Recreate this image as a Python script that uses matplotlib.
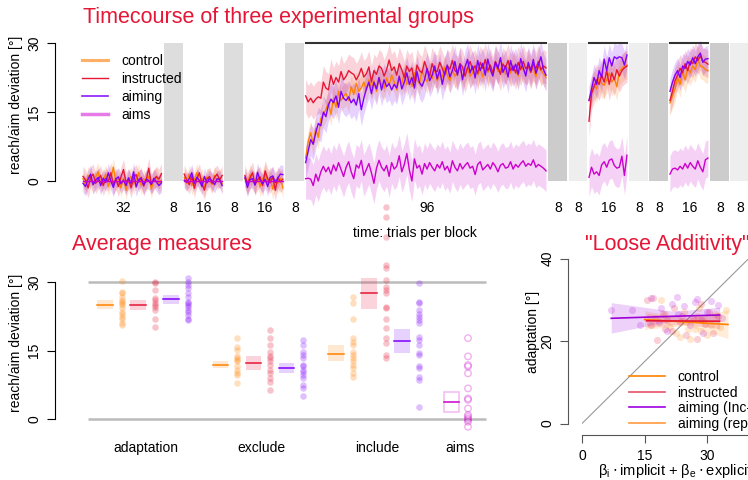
import numpy as np
import matplotlib
matplotlib.use('Agg')
import matplotlib.pyplot as plt
from matplotlib.lines import Line2D
from matplotlib.patches import Rectangle

plt.rcParams['font.family'] = ['Liberation Sans', 'DejaVu Sans']

# ---------------- data: timecourse ----------------
block_sizes = [32, 8, 16, 8, 16, 8, 96, 8, 8, 16, 8, 8, 16, 8, 8]

# baseline blocks
ctl_b1 = [0.5, -1.0, 1.2, 0.3, -0.8, 0.9, 2.0, -0.5, 0.2, 1.5, -1.2, 0.4, 3.0, -0.3, 0.8, -1.5,
          0.6, -2.0, 0.1, 1.0, -0.7, 0.3, 1.8, -1.0, 0.5, -0.2, 1.1, -1.8, 0.4, 0.9, -0.6, 0.2]
ins_b1 = [1.0, 0.2, -1.5, 0.8, 1.5, -0.5, 0.3, 1.2, -1.0, 0.6, 0.0, 1.8, -0.8, 0.4, -1.2, 0.9,
          2.5, -0.3, 0.5, -1.5, 0.7, 1.4, -0.2, 0.8, -1.1, 0.3, 2.8, -0.6, 0.2, 1.0, 0.4, 1.6]
aim_b1 = [-0.5, -1.2, 0.4, 1.5, -0.8, 0.2, 0.8, -1.0, 0.6, -0.3, 1.8, 0.0, -1.4, 0.5, 0.9, -0.6,
          0.2, -1.0, 0.7, -0.5, 2.0, -1.3, 0.3, 0.6, -0.9, 0.4, 0.1, -0.8, 0.6, -0.2, -1.0, -0.4]
ctl_b3 = [0.8, -0.5, 1.5, -1.0, 0.3, 1.8, -0.4, 0.6, -1.5, 0.9, 0.2, -0.8, 1.2, 0.0, 0.7, -0.6]
ins_b3 = [1.5, 0.2, -0.8, 1.0, -1.6, 0.5, 1.8, -0.6, -2.0, 0.4, 1.0, -0.5, 0.8, 1.5, 0.3, 1.2]
aim_b3 = [0.2, -0.3, 0.5, 1.8, -0.5, 0.8, 0.1, -1.2, 1.0, -0.4, 0.6, 0.0, -0.8, 0.5, 0.3, -1.0]
ctl_b5 = [0.5, -1.0, 1.4, 0.2, -0.6, 1.0, -1.2, 0.4, 1.6, -0.3, 0.8, -1.8, 0.3, -0.5, 0.6, -1.5]
ins_b5 = [1.2, -0.5, 0.6, 1.8, -0.8, 0.3, 0.9, -1.0, 2.2, 0.5, -0.4, 1.0, -2.0, 0.8, -0.2, 0.4]
aim_b5 = [0.8, -1.4, 0.3, 0.5, -0.9, 1.9, 0.2, -0.6, 0.4, -1.2, 0.8, 1.1, -0.3, 0.6, 1.5, 1.4]

# rotated training block (96 trials)
ins_rot = [18.5, 17.2, 18.0, 17.0, 17.8, 18.3, 18.0, 21.5, 20.2, 19.8, 23.0, 21.0, 22.5, 21.5, 23.8, 22.0,
           22.8, 24.0, 23.5, 23.2, 22.0, 23.0, 24.5, 22.6, 23.3, 24.8, 21.5, 24.0, 23.2, 25.0, 24.5, 22.8,
           24.2, 26.3, 24.0, 24.8, 23.0, 25.5, 24.2, 22.5, 25.0, 23.8, 24.6, 21.5, 25.2, 24.0, 23.5, 26.0,
           24.3, 22.8, 25.5, 24.0, 23.8, 25.8, 24.5, 23.0, 25.0, 24.3, 26.2, 24.0, 23.5, 25.5, 24.8, 22.8,
           24.6, 26.0, 24.2, 25.0, 23.4, 25.8, 24.5, 26.4, 24.0, 25.2, 23.5, 26.0, 24.8, 23.2, 25.4, 24.6,
           26.2, 24.0, 25.0, 23.5, 25.8, 24.2, 26.0, 24.4, 25.0, 23.6, 25.4, 24.5, 26.0, 24.2, 25.0, 24.6]
ctl_rot = [5.0, 8.5, 10.5, 8.0, 11.5, 9.5, 13.5, 14.5, 15.5, 17.0, 14.5, 18.0, 16.0, 19.5, 17.5, 18.5,
           19.0, 17.5, 20.5, 18.8, 21.2, 19.5, 20.2, 21.5, 19.8, 22.0, 20.4, 21.8, 19.5, 22.5, 21.0, 20.2,
           22.4, 20.8, 23.0, 21.5, 19.8, 22.6, 21.2, 23.4, 21.0, 22.8, 20.5, 23.5, 22.0, 21.2, 24.0, 22.4,
           21.6, 23.8, 22.2, 24.4, 21.8, 23.2, 22.6, 24.8, 23.0, 21.8, 24.2, 22.8, 23.6, 25.0, 22.4, 23.8,
           24.6, 22.8, 23.5, 25.2, 23.0, 24.4, 22.6, 25.0, 23.6, 24.8, 22.9, 25.4, 23.8, 24.2, 25.6, 23.2,
           24.8, 23.4, 25.2, 24.0, 22.8, 25.0, 24.2, 23.6, 25.2, 23.8, 24.6, 22.6, 25.0, 24.0, 23.4, 22.5]
aim_rot = [4.0, 6.5, 9.0, 8.0, 10.5, 12.5, 12.0, 15.0, 14.0, 16.5, 17.8, 17.0, 18.5, 16.0, 19.5, 18.0,
           17.5, 18.3, 17.0, 17.8, 16.5, 19.0, 15.5, 18.0, 20.0, 21.5, 19.0, 21.5, 20.0, 22.5, 19.8, 22.0,
           20.5, 21.2, 19.8, 21.0, 20.2, 22.8, 20.0, 21.5, 23.5, 21.0, 22.5, 20.2, 23.8, 21.4, 20.6, 22.0,
           24.5, 21.8, 23.0, 25.0, 22.2, 24.2, 21.0, 23.6, 25.2, 22.6, 24.0, 26.0, 23.0, 25.4, 22.0, 24.8,
           26.4, 23.5, 25.0, 22.4, 26.2, 24.0, 25.6, 23.0, 26.5, 24.2, 22.8, 25.8, 24.4, 26.8, 23.6, 25.0,
           22.6, 26.2, 24.0, 25.4, 23.2, 26.6, 24.6, 22.8, 25.8, 24.0, 26.4, 23.4, 25.2, 27.0, 24.2, 23.0]
aims_rot = [0.5, 0.6, 0.4, -1.0, 1.5, 0.0, 2.0, 3.2, 2.0, 3.0, 1.5, 3.5, 2.2, 4.0, 2.5, 1.0,
            3.0, 4.2, 2.0, 0.5, 3.5, 2.8, 4.5, 1.2, 2.5, 3.8, 1.8, -0.5, 2.8, 4.5, 3.0, 2.2,
            3.4, 1.0, 4.0, 2.6, 3.2, 5.5, 2.0, 3.6, 6.0, 2.4, 0.0, 4.8, 2.8, 3.4, 1.5, 3.8,
            2.6, 4.0, 3.0, 2.2, 3.6, 2.8, 4.2, 2.4, 3.2, 1.8, 4.4, 3.0, 2.2, 3.8, 2.6, 3.4,
            4.0, 2.8, 3.2, 1.4, 3.6, 4.2, 2.4, 3.0, 3.6, 2.6, 4.0, 3.2, 2.0, 3.4, 3.8, 2.8,
            3.0, 4.2, 2.6, 3.6, 3.0, 3.8, 4.4, 3.2, 3.8, 3.4, 4.6, 3.0, 3.6, 3.2, 2.8, 2.2]

# later rotated blocks (16 trials each)
ins_r2 = [13.0, 19.0, 20.5, 22.0, 21.0, 23.0, 21.5, 24.0, 21.0, 23.5, 22.0, 24.2, 22.8, 24.0, 24.6, 25.0]
ctl_r2 = [17.5, 19.5, 21.0, 20.0, 22.5, 21.2, 20.8, 22.0, 23.5, 21.5, 22.4, 20.5, 23.8, 24.5, 25.0, 25.2]
aim_r2 = [17.5, 20.0, 22.5, 21.0, 24.0, 22.5, 26.5, 24.0, 26.8, 25.0, 27.0, 26.6, 27.0, 26.8, 25.2, 27.4]
aims_r2 = [0.8, 3.0, 1.5, 2.0, 1.2, 3.5, 4.2, 3.0, 4.5, 4.8, 3.4, 2.8, 3.0, 5.4, 1.2, 5.6]
aim_r3 = [19.5, 21.5, 23.0, 24.0, 22.5, 25.0, 24.5, 26.0, 25.2, 26.8, 25.5, 27.0, 27.8, 25.8, 26.5, 26.6]
ins_r3 = [17.5, 19.5, 21.8, 23.0, 24.5, 23.5, 25.5, 24.0, 26.0, 25.5, 27.0, 26.2, 27.2, 26.0, 25.8, 25.4]
ctl_r3 = [17.0, 18.5, 20.0, 22.5, 21.0, 23.8, 22.0, 24.5, 23.5, 25.0, 24.2, 26.5, 25.0, 24.8, 24.2, 24.0]
aims_r3 = [1.5, 2.6, 2.8, 2.4, 3.2, 2.6, 3.8, 2.8, 4.0, 3.2, 2.6, 4.4, 3.0, 2.0, 4.6, 5.0]

# aims during aligned blocks: zero
aims_b1 = [0.0] * 32
aims_b3 = [0.0] * 16
aims_b5 = [0.0] * 16

# half-width of the shaded confidence band, per data block
ci_control = [2.0, 2.0, 2.2, 2.6, 3.0, 2.8]
ci_instructed = [2.2, 2.0, 2.3, 3.6, 3.5, 3.0]
ci_aiming = [2.0, 1.8, 2.0, 3.5, 3.0, 2.8]
ci_aims = [0.0, 0.0, 0.0, 4.5, 4.2, 4.0]

# ---------------- data: average measures ----------------
measures = ['adaptation', 'exclude', 'include', 'aims']
adapt_mean = [25.0, 25.0, 26.2]
adapt_lo = [24.0, 23.8, 25.1]
adapt_hi = [26.0, 26.1, 27.2]
excl_mean = [11.9, 12.2, 11.2]
excl_lo = [11.1, 10.8, 10.0]
excl_hi = [12.8, 13.7, 12.3]
incl_mean = [14.3, 27.5, 17.0]
incl_lo = [12.7, 24.1, 14.4]
incl_hi = [16.2, 30.8, 19.8]
aims_mean, aims_lo, aims_hi = 3.7, 1.6, 6.0

adapt_ctl = [30.2, 27.9, 27.5, 26.8, 26.1, 25.7, 25.3, 25.0, 24.2, 23.5, 23.1, 22.3, 22.0, 21.0, 20.6]
adapt_ins = [30.1, 29.7, 28.3, 26.4, 26.1, 25.3, 25.0, 24.6, 23.9, 22.0, 20.2]
adapt_aim = [30.8, 30.1, 29.4, 28.6, 27.5, 26.8, 25.7, 25.3, 25.0, 24.6, 23.9, 23.5, 22.8, 22.0, 21.7]
excl_ctl = [17.7, 15.8, 15.1, 13.7, 13.3, 12.9, 12.6, 11.5, 10.7, 10.0, 9.6, 7.8]
excl_ins = [19.5, 17.7, 16.2, 14.7, 13.7, 13.3, 12.6, 11.8, 10.7, 10.0, 8.9, 8.2, 6.4]
excl_aim = [17.3, 16.2, 14.7, 14.0, 13.3, 11.8, 11.5, 10.7, 10.4, 9.6, 8.9, 7.4, 6.7, 5.1]
incl_ctl = [26.8, 25.3, 22.0, 17.7, 16.9, 16.2, 14.7, 14.0, 13.3, 12.6, 11.8, 11.1, 10.0, 9.3]
incl_ins = [46.4, 44.2, 39.9, 33.8, 33.0, 30.4, 29.0, 28.3, 27.5, 24.6, 24.2, 22.0, 19.9, 17.7, 16.6, 14.0, 13.3]
incl_aim = [29.7, 25.7, 25.3, 23.9, 23.1, 22.4, 21.7, 21.0, 18.0, 17.3, 16.2, 14.4, 14.0, 11.5, 11.1, 9.3, 8.5, 2.7]
aims_pts = [17.7, 13.7, 11.8, 11.5, 10.0, 6.7, 4.5, 4.2, 2.3, 0.9, 0.5, 0.1, -0.2, -0.6, -1.7]

# ---------------- data: loose additivity ----------------
ctl_pred = [17.5, 19.0, 21.0, 22.5, 23.5, 24.5, 25.0, 26.0, 27.0, 27.5, 28.5, 29.0, 30.0, 31.0, 32.0, 33.0, 34.5, 20.0, 25.5, 28.0]
ctl_adapt = [25.5, 30.0, 23.5, 22.0, 21.0, 27.0, 24.5, 20.5, 23.0, 26.0, 22.5, 25.0, 21.5, 24.0, 26.5, 23.5, 27.5, 26.5, 22.8, 28.0]
ins_pred = [15.5, 16.5, 18.0, 19.5, 20.5, 21.5, 22.0, 23.5, 24.0, 25.0, 26.5, 27.5, 28.5, 29.5, 30.5, 31.5, 32.5, 17.0, 20.0]
ins_adapt = [30.0, 24.0, 20.2, 26.5, 25.0, 22.5, 28.0, 24.5, 26.0, 21.5, 25.5, 20.4, 29.0, 24.2, 27.0, 22.0, 26.0, 30.5, 23.0]
aim_pred = [6.9, 11.9, 14.0, 16.5, 18.5, 19.0, 20.5, 22.7, 23.0, 24.5, 26.0, 27.0, 27.5, 28.5, 29.0, 30.0, 31.0, 32.7, 33.5, 21.5]
aim_adapt = [27.5, 27.5, 24.0, 30.5, 24.5, 28.0, 22.5, 30.7, 26.5, 28.5, 24.0, 29.5, 30.1, 25.0, 22.0, 27.0, 29.8, 28.8, 25.5, 29.0]

ctl_fit_x = [15.0, 25.0, 35.0]
ctl_fit_y = [25.2, 24.6, 24.0]
ctl_fit_lo = [22.8, 23.8, 20.6]
ctl_fit_hi = [27.4, 25.4, 27.5]
ins_fit_x = [15.5, 24.0, 33.0]
ins_fit_y = [24.9, 24.85, 24.8]
ins_fit_lo = [23.3, 24.1, 23.0]
ins_fit_hi = [26.7, 25.7, 26.6]
aim_fit_x = [7.0, 22.0, 33.0]
aim_fit_y = [25.5, 26.0, 26.3]
aim_fit_lo = [21.9, 25.0, 24.5]
aim_fit_hi = [29.3, 27.2, 28.2]

# ---------------- styles ----------------
c_ctl = '#ff8200'
c_ins = '#e51636'
c_aim = '#7f00ff'
c_aims = '#cc00cc'
c_title = '#e51636'
block_shade = [None, '#dddddd', None, '#dddddd', None, '#dddddd', None,
               '#cccccc', '#eeeeee', None, '#eeeeee', '#cccccc', None, '#cccccc', '#eeeeee']
FS = 10
FS_TITLE = 15.5

W, H = 748, 480
fig = plt.figure(figsize=(W / 100, H / 100), dpi=100)


def px_axes(l, t, r, b):
    return fig.add_axes([l / W, 1 - b / H, (r - l) / W, (b - t) / H])


# ================= top: timecourse =================
ax = px_axes(55, 181 - 34 * 4.6, 770, 181 + 6 * 4.6)
ax.set_xlim(1 + (55 - 83) / 2.53, 1 + (770 - 83) / 2.53)
ax.set_ylim(-6, 34)
for s in ['top', 'right', 'bottom']:
    ax.spines[s].set_visible(False)
ax.spines['left'].set_bounds(0, 30)
ax.set_xticks([])
ax.set_yticks([0, 15, 30])
ax.tick_params(axis='y', labelrotation=90, labelsize=FS, length=6, pad=4)
for lab in ax.get_yticklabels():
    lab.set_va('center')

starts = np.cumsum([0] + block_sizes[:-1]) + 1
ends = starts + np.array(block_sizes) - 1

ctl_blocks = [ctl_b1, ctl_b3, ctl_b5, ctl_rot, ctl_r2, ctl_r3]
ins_blocks = [ins_b1, ins_b3, ins_b5, ins_rot, ins_r2, ins_r3]
aim_blocks = [aim_b1, aim_b3, aim_b5, aim_rot, aim_r2, aim_r3]
aims_blocks = [aims_b1, aims_b3, aims_b5, aims_rot, aims_r2, aims_r3]
data_idx = [i for i, s in enumerate(block_shade) if s is None]

for i, shade in enumerate(block_shade):
    if shade is not None:
        ax.add_patch(Rectangle((starts[i] - 0.1, 0), ends[i] - starts[i] + 0.5, 30,
                               facecolor=shade, edgecolor='none', zorder=1))
    ax.text((starts[i] + ends[i]) / 2 + 0.3, -5.9, str(block_sizes[i]), ha='center', va='center',
            fontsize=FS, clip_on=False)

for k, bi in enumerate(data_idx):
    t = np.arange(starts[bi], ends[bi] + 1)
    for vals, ci, col in [(ctl_blocks[k], ci_control[k], c_ctl),
                          (ins_blocks[k], ci_instructed[k], c_ins),
                          (aim_blocks[k], ci_aiming[k], c_aim),
                          (aims_blocks[k], ci_aims[k], c_aims)]:
        v = np.array(vals)
        if ci > 0:
            ax.fill_between(t, v - ci, v + ci, color=col, alpha=0.18, lw=0, zorder=2)
    for vals, col in [(ctl_blocks[k], c_ctl), (ins_blocks[k], c_ins),
                      (aim_blocks[k], c_aim), (aims_blocks[k], c_aims)]:
        ax.plot(t, vals, color=col, lw=1.0, zorder=3)
    if k >= 3:
        ax.plot([starts[bi], ends[bi]], [30, 30], color='#333333', lw=1.5, zorder=4, clip_on=False)

handles = [Line2D([], [], color='#ffb066', lw=2.2), Line2D([], [], color=c_ins, lw=1.0),
           Line2D([], [], color='#8c1aff', lw=1.2), Line2D([], [], color='#e67ae6', lw=2.5)]
ax.legend(handles, ['control', 'instructed', 'aiming', 'aims'], loc='upper left',
          bbox_to_anchor=(82 / W, 1 - 54 / H), bbox_transform=fig.transFigure, frameon=False,
          fontsize=FS, handlelength=1.85, handletextpad=0.95, labelspacing=0.28,
          borderpad=0, borderaxespad=0)

fig.text(83 / W, 1 - 18 / H, 'Timecourse of three experimental groups', color=c_title,
         fontsize=FS_TITLE, ha='left', va='center')
fig.text(16 / W, 1 - 105 / H, 'reach/aim deviation [°]', rotation=90, fontsize=FS,
         ha='center', va='center')
fig.text(415 / W, 1 - 233 / H, 'time: trials per block', fontsize=FS, ha='center', va='center')

# ================= bottom left: average measures =================
u = 16.5
sy = 137 / 30
ax2 = px_axes(55, 419 - 33 * sy, 495, 419 + 3 * sy)
ax2.set_xlim((55 - 105) / u, (495 - 105) / u)
ax2.set_ylim(-3, 33)
for s in ['top', 'right', 'bottom']:
    ax2.spines[s].set_visible(False)
ax2.spines['left'].set_bounds(0, 30)
ax2.set_xticks([])
ax2.set_yticks([0, 15, 30])
ax2.tick_params(axis='y', labelrotation=90, labelsize=FS, length=6, pad=4)
for lab in ax2.get_yticklabels():
    lab.set_va('center')
ax2.hlines([0, 30], -1.03, 23.1, color='#bbbbbb', lw=1.8, zorder=1)

cols = [c_ctl, c_ins, c_aim]
means = [adapt_mean, excl_mean, incl_mean]
los = [adapt_lo, excl_lo, incl_lo]
his = [adapt_hi, excl_hi, incl_hi]
dots = [[adapt_ctl, adapt_ins, adapt_aim], [excl_ctl, excl_ins, excl_aim], [incl_ctl, incl_ins, incl_aim]]
for m in range(3):
    for g in range(3):
        p = m * 7 + g * 2
        ax2.add_patch(Rectangle((p - 0.48, los[m][g]), 0.96, his[m][g] - los[m][g],
                                facecolor=cols[g], alpha=0.18, edgecolor='none', zorder=2))
        ax2.plot([p - 0.48, p + 0.48], [means[m][g]] * 2, color=cols[g], lw=1.1, zorder=3)
        pts = dots[m][g]
        ax2.scatter([p + 1] * len(pts), pts, s=22, color=cols[g], alpha=0.25, lw=0,
                    zorder=3, clip_on=False)
p = 21
ax2.add_patch(Rectangle((p - 0.48, aims_lo), 0.96, aims_hi - aims_lo, facecolor='none',
                        edgecolor=c_aims, alpha=0.25, lw=1.2, zorder=2))
ax2.plot([p - 0.48, p + 0.48], [aims_mean] * 2, color=c_aims, lw=1.1, zorder=3)
ax2.scatter([p + 1] * len(aims_pts), aims_pts, s=22, facecolor='none', edgecolor=c_aims,
            alpha=0.3, lw=1.0, zorder=3, clip_on=False)
for i, name in enumerate(measures):
    ax2.text([2.5, 9.5, 16.5, 21.5][i], (419 - 448) / sy, name, ha='center', va='center',
             fontsize=FS, clip_on=False)

fig.text(72 / W, 1 - 245 / H, 'Average measures', color=c_title, fontsize=FS_TITLE,
         ha='left', va='center')
fig.text(16 / W, 1 - 343 / H, 'reach/aim deviation [°]', rotation=90, fontsize=FS,
         ha='center', va='center')

# ================= bottom right: loose additivity =================
ax3 = px_axes(582, 258.5, 582 + 40 * 4.17, 423.5)
ax3.set_xlim(0, 40)
ax3.set_ylim(0, 40)
for s in ['top', 'right']:
    ax3.spines[s].set_visible(False)
ax3.spines['left'].set_position(('outward', 10))
ax3.spines['bottom'].set_position(('outward', 8))
ax3.spines['left'].set_bounds(0, 40)
ax3.spines['bottom'].set_bounds(0, 45)
for s in ['left', 'bottom']:
    ax3.spines[s].set_color('#555555')
ax3.set_xticks([0, 15, 30])
ax3.set_yticks([0, 20, 40])
ax3.tick_params(axis='both', labelsize=FS, length=6, pad=4, color='#555555')
ax3.tick_params(axis='y', labelrotation=90)
for lab in ax3.get_yticklabels():
    lab.set_va('center')

ax3.plot([0, 40], [0, 40], color='#999999', lw=0.8, zorder=1)
ax3.scatter(ctl_pred, ctl_adapt, s=26, color=c_ctl, alpha=0.2, lw=0, zorder=2)
ax3.scatter(ins_pred, ins_adapt, s=26, color=c_ins, alpha=0.2, lw=0, zorder=2)
ax3.scatter(aim_pred, aim_adapt, s=26, color='#b000d8', alpha=0.2, lw=0, zorder=2)
ax3.fill_between(ctl_fit_x, ctl_fit_lo, ctl_fit_hi, color=c_ctl, alpha=0.15, lw=0, zorder=2)
ax3.fill_between(ins_fit_x, ins_fit_lo, ins_fit_hi, color=c_ins, alpha=0.15, lw=0, zorder=2)
ax3.fill_between(aim_fit_x, aim_fit_lo, aim_fit_hi, color='#a000e0', alpha=0.18, lw=0, zorder=2)
ax3.plot(ctl_fit_x, ctl_fit_y, color=c_ctl, lw=1.2, zorder=3)
ax3.plot(ins_fit_x, ins_fit_y, color=c_ins, lw=1.2, zorder=3)
ax3.plot(aim_fit_x, aim_fit_y, color='#a000d8', lw=1.2, zorder=3)

handles3 = [Line2D([], [], color=c_ctl, lw=1.2), Line2D([], [], color='#e8506a', lw=1.2),
            Line2D([], [], color='#a000e0', lw=1.2), Line2D([], [], color='#ff9a40', lw=1.2)]
ax3.legend(handles3, ['control', 'instructed', 'aiming (Inc-Exc)', 'aiming (reports)'],
           loc='upper left', bbox_to_anchor=(629 / W, 1 - 370 / H), bbox_transform=fig.transFigure,
           frameon=False, fontsize=FS, handlelength=2.6, handletextpad=0.9, labelspacing=0.12,
           borderpad=0, borderaxespad=0)

fig.text(667 / W, 1 - 245 / H, '"Loose Additivity"', color=c_title, fontsize=FS_TITLE,
         ha='center', va='center')
fig.text(533 / W, 1 - 332 / H, 'adaptation [°]', rotation=90, fontsize=FS,
         ha='center', va='center')
fig.text(598 / W, 1 - 471 / H, r'$\mathregular{\beta_i}\cdot$implicit + $\mathregular{\beta_e}\cdot$explicit',
         fontsize=10.5, ha='left', va='center')

fig.savefig('out.png', dpi=100)
